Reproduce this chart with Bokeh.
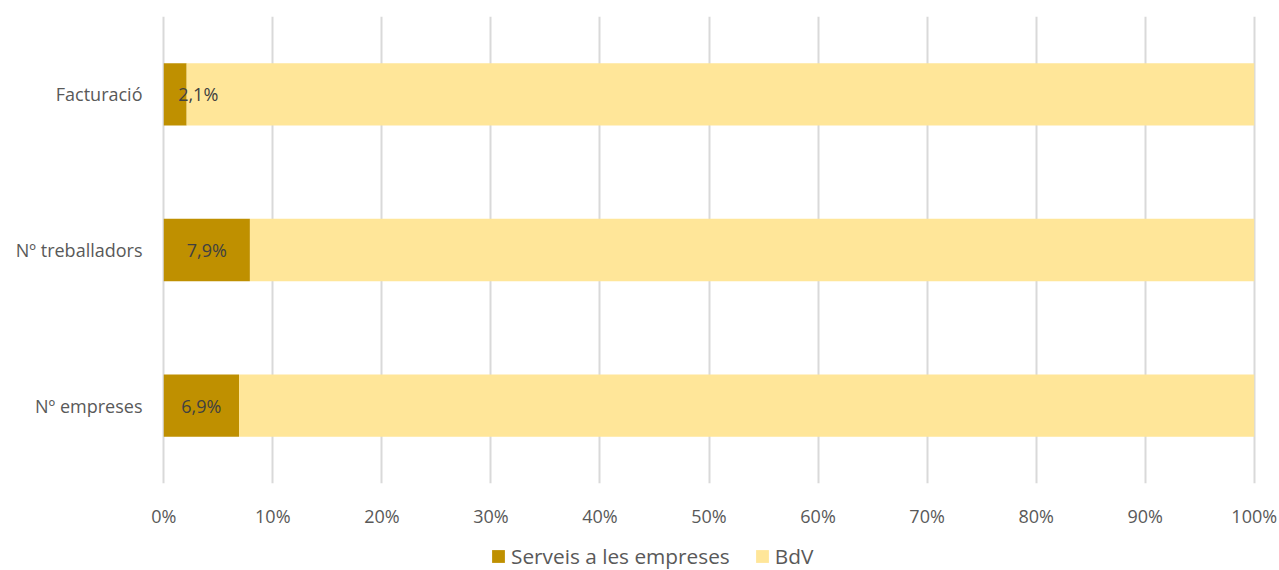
from bokeh.plotting import figure
from bokeh.layouts import column
from bokeh.models import ColumnDataSource, Range1d, FactorRange, FixedTicker, Legend, LegendItem
from bokeh.core.properties import value
from bokeh.embed import file_html
from bokeh.resources import INLINE

categories = ["Nº empreses", "Nº treballadors", "Facturació"]
serveis = [6.9, 7.9, 2.1]
bdv = [93.1, 92.1, 97.9]
labels = ["6,9%", "7,9%", "2,1%"]
series_names = ["Serveis a les empreses", "BdV"]
ticks = [0, 10, 20, 30, 40, 50, 60, 70, 80, 90, 100]
tick_labels = ["0%", "10%", "20%", "30%", "40%", "50%", "60%", "70%", "80%", "90%", "100%"]

FONT = "Open Sans"
C_DARK = "#BF9000"
C_LIGHT = "#FFE699"

src = ColumnDataSource(dict(cat=categories, serveis=serveis, bdv=bdv))

fig = figure(width=1279, height=530, output_backend="svg", toolbar_location=None,
             y_range=FactorRange(*categories, range_padding=0),
             x_range=Range1d(-0.3, 100.3),
             min_border_left=160, min_border_right=22, min_border_top=16, min_border_bottom=46)
fig.outline_line_color = None
fig.background_fill_color = "white"

rs = fig.hbar_stack(["serveis", "bdv"], y="cat", height=0.4, color=[C_DARK, C_LIGHT],
                    line_color=None, source=src)

# data labels
lx = [v / 2 for v in serveis]
loff = [0 if v > 4 else 23 for v in serveis]
lsrc = ColumnDataSource(dict(x=lx, y=categories, t=labels, off=loff))
fig.text(x="x", y="y", text="t", x_offset="off", source=lsrc, text_align="center",
         text_baseline="middle", text_font=value(FONT), text_font_size="18px",
         text_color="#404040")

fig.xaxis.ticker = FixedTicker(ticks=ticks)
fig.xaxis.major_label_overrides = {t: l for t, l in zip(ticks, tick_labels)}
for ax in (fig.xaxis, fig.yaxis):
    ax.axis_line_color = None
    ax.major_tick_line_color = None
    ax.minor_tick_line_color = None
    ax.major_label_text_font = FONT
    ax.major_label_text_font_size = "18px"
    ax.major_label_text_color = "#595959"
fig.xaxis.major_label_standoff = 14
fig.yaxis.major_label_standoff = 12

fig.xgrid.grid_line_color = "#D9D9D9"
fig.xgrid.grid_line_width = 2
fig.xgrid.ticker = FixedTicker(ticks=ticks)
fig.ygrid.grid_line_color = None

# legend strip (frame aligned with the main frame by the column layout)
leg = figure(width=1279, height=40, output_backend="svg", toolbar_location=None,
             x_axis_type=None, y_axis_type=None, x_range=Range1d(0, 1), y_range=Range1d(0, 1),
             min_border_left=160, min_border_right=22, min_border_top=0, min_border_bottom=0)
leg.outline_line_color = None
leg.grid.grid_line_color = None
r1 = leg.hbar(y=[0], left=[0], right=[0], height=0, color=C_DARK, line_color=None)
r2 = leg.hbar(y=[0], left=[0], right=[0], height=0, color=C_LIGHT, line_color=None)
legend = Legend(items=[LegendItem(label=series_names[0], renderers=[r1]),
                       LegendItem(label=series_names[1], renderers=[r2])],
                orientation="horizontal", location=(330, 0),
                label_text_font=FONT, label_text_font_size="20.8px", label_text_color="#595959",
                glyph_width=16, glyph_height=16, label_standoff=5, spacing=24,
                padding=0, margin=0, border_line_color=None, background_fill_alpha=0,
                label_height=24)
leg.add_layout(legend, "center")

p = column(fig, leg, spacing=0)
open("out.html", "w").write(file_html(p, INLINE))
